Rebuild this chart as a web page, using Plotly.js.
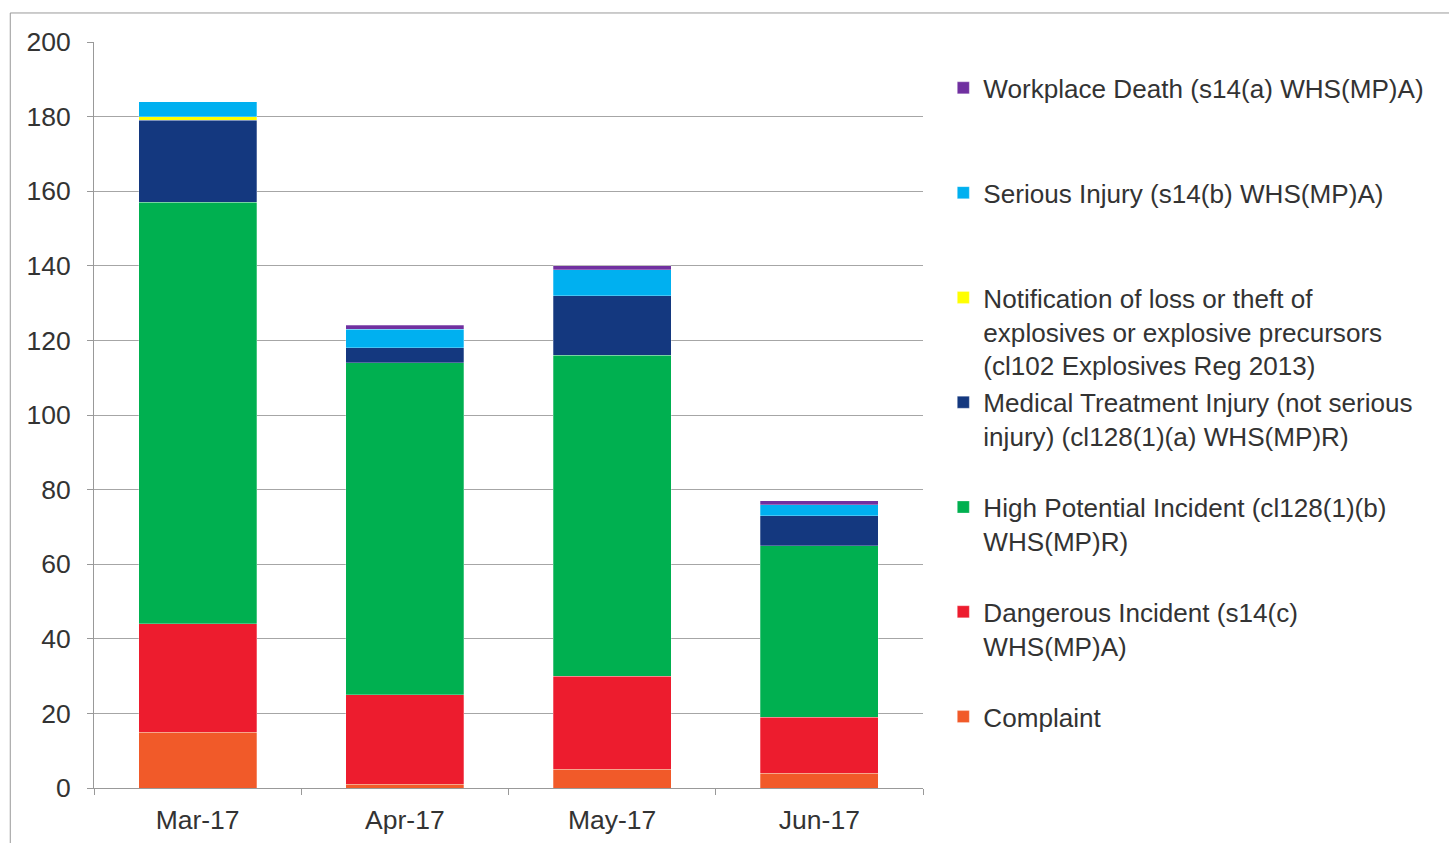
<!DOCTYPE html>
<html>
<head>
<meta charset="utf-8">
<script src="https://cdn.plot.ly/plotly-3.0.1.min.js"></script>
<style>html,body{margin:0;padding:0;background:#fff;}#chart{width:1449px;height:843px;}</style>
</head>
<body>
<div id="chart"></div>
<script>
const months = ["Mar-17", "Apr-17", "May-17", "Jun-17"];
const complaint = [15, 1, 5, 4];
const dangerous = [29, 24, 25, 15];
const highPotential = [113, 89, 86, 46];
const medicalTreatment = [22, 4, 16, 8];
const explosives = [1, 0, 0, 0];
const seriousInjury = [4, 5, 7, 3];
const workplaceDeath = [0, 1, 1, 1];

const seriesNames = [
  "Complaint",
  "Dangerous Incident (s14(c)<br>WHS(MP)A)",
  "High Potential Incident (cl128(1)(b)<br>WHS(MP)R)",
  "Medical Treatment Injury (not serious<br>injury) (cl128(1)(a) WHS(MP)R)",
  "Notification of loss or theft of<br>explosives or explosive precursors<br>(cl102 Explosives Reg 2013)",
  "Serious Injury (s14(b) WHS(MP)A)",
  "Workplace Death (s14(a) WHS(MP)A)"
];
const seriesValues = [complaint, dangerous, highPotential, medicalTreatment, explosives, seriousInjury, workplaceDeath];
const seriesColors = ["#F15A29", "#ED1C2E", "#00B050", "#14387F", "#FFFF00", "#00B0F0", "#7030A0"];

function pad(name) {
  const lines = name.split("<br>").length;
  let s = name;
  for (let i = lines; i < 3; i++) s += "<br>\u00a0";
  return s;
}

const traces = seriesValues.map((vals, i) => ({
  type: "bar",
  x: months,
  y: vals,
  name: pad(seriesNames[i]),
  legendgroup: "g" + i,
  marker: { color: seriesColors[i], line: { color: "rgba(255,255,255,0.45)", width: 0.6 } },
  hoverinfo: "x+y+name"
}));

const gridColor = "#A6A6A6";
const layout = {
  width: 1449,
  height: 843,
  barmode: "stack",
  bargap: 0.43,
  paper_bgcolor: "#ffffff",
  plot_bgcolor: "#ffffff",
  margin: { l: 94, r: 526, t: 42, b: 55 },
  font: { family: "Liberation Sans, Arial, sans-serif", size: 26.5, color: "#333333" },
  xaxis: {
    type: "category",
    showgrid: false,
    showline: true,
    linecolor: "#999999",
    linewidth: 1,
    ticks: "outside",
    tickson: "boundaries",
    ticklen: 6,
    tickcolor: "#999999",
    ticklabelstandoff: 8,
    tickfont: { size: 26.5, color: "#333333" }
  },
  yaxis: {
    range: [0, 200],
    dtick: 20,
    showgrid: true,
    gridcolor: gridColor,
    gridwidth: 1,
    zeroline: false,
    showline: true,
    linecolor: "#999999",
    linewidth: 1,
    ticks: "outside",
    ticklen: 6,
    tickcolor: "#999999",
    ticklabelstandoff: 11,
    tickfont: { size: 26.5, color: "#333333" }
  },
  legend: {
    x: 1.0245,
    xanchor: "left",
    y: 0.97,
    yanchor: "top",
    traceorder: "reversed",
    valign: "top",
    itemwidth: 30,
    font: { size: 26.1, color: "#333333" },
    bgcolor: "rgba(0,0,0,0)"
  },
  shapes: [
    { type: "line", xref: "paper", yref: "paper", x0: -0.101, x1: 1.64, y0: 1.0389, y1: 1.0389, line: { color: "#999999", width: 1 } },
    { type: "line", xref: "paper", yref: "paper", x0: -0.101, x1: -0.101, y0: 1.0389, y1: -0.08, line: { color: "#999999", width: 1 } }
  ],
  showlegend: true
};

Plotly.newPlot("chart", traces, layout, { displayModeBar: false, staticPlot: true });
</script>
</body>
</html>
